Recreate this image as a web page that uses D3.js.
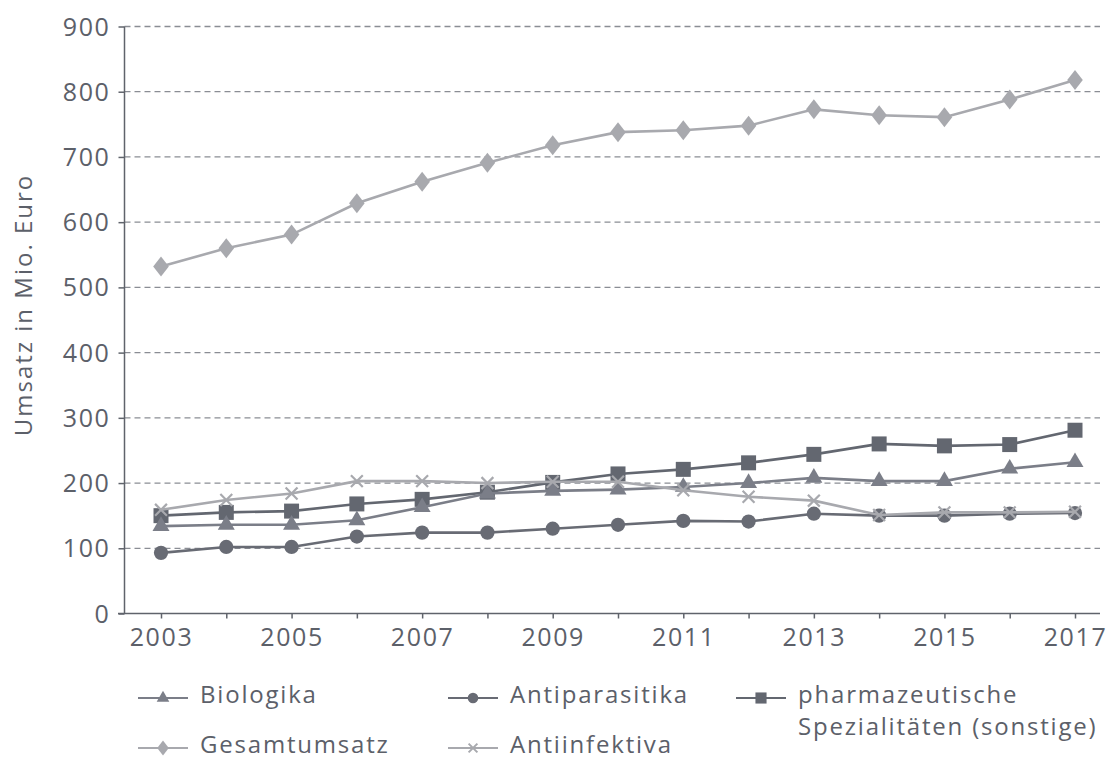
<!DOCTYPE html>
<html>
<head>
<meta charset="utf-8">
<script src="https://cdn.jsdelivr.net/npm/d3@7"></script>
<style>
  html, body { margin: 0; padding: 0; background: #ffffff; }
  svg { display: block; }
  text { font-family: "Open Sans", "DejaVu Sans", sans-serif; fill: #5c6069; }
</style>
</head>
<body>
<svg id="chart" width="1113" height="762"></svg>
<script>
const years = [2003, 2004, 2005, 2006, 2007, 2008, 2009, 2010, 2011, 2012, 2013, 2014, 2015, 2016, 2017];
const xTicks = [2003, 2005, 2007, 2009, 2011, 2013, 2015, 2017];
const yTicks = [0, 100, 200, 300, 400, 500, 600, 700, 800, 900];

const gesamtumsatz = [532, 560, 581, 629, 662, 691, 718, 738, 741, 748, 773, 764, 761, 788, 818];
const pharmazeutische = [150, 155, 157, 168, 175, 186, 201, 214, 221, 231, 244, 260, 257, 259, 281];
const biologika = [134, 136, 136, 143, 163, 184, 188, 190, 194, 200, 208, 203, 203, 222, 232];
const antiparasitika = [93, 102, 102, 118, 124, 124, 130, 136, 142, 141, 153, 150, 150, 153, 154];
const antiinfektiva = [159, 174, 184, 203, 203, 200, 202, 202, 189, 179, 173, 151, 155, 155, 156];

const yTitle = "Umsatz in Mio. Euro";

const svg = d3.select("#chart");
const x = d3.scaleLinear().domain([2003, 2017]).range([161, 1075]);
const y = d3.scaleLinear().domain([0, 900]).range([613.5, 26.5]);
const axisColor = "#5f636b";

// custom symbols
const diamondSym = { draw(ctx, size) { const h = Math.sqrt(size) * 0.62, w = h * 0.78; ctx.moveTo(0, -h); ctx.lineTo(w, 0); ctx.lineTo(0, h); ctx.lineTo(-w, 0); ctx.closePath(); } };
const crossSym = { draw(ctx, size) { const r = Math.sqrt(size) * 0.4; ctx.moveTo(-r, -r); ctx.lineTo(r, r); ctx.moveTo(r, -r); ctx.lineTo(-r, r); } };

// gridlines
svg.append("g").selectAll("line").data(yTicks.filter(d => d > 0)).join("line")
  .attr("x1", 124.5).attr("x2", 1100)
  .attr("y1", d => y(d)).attr("y2", d => y(d))
  .attr("stroke", "#8a8d94").attr("stroke-width", 1.3).attr("stroke-dasharray", "6,4");

// y axis
const yAxis = svg.append("g").attr("transform", "translate(124.5,0)")
  .call(d3.axisLeft(y).tickValues(yTicks).tickSize(6).tickPadding(10).tickFormat(d3.format("d")));
yAxis.select(".domain").attr("stroke", axisColor).attr("stroke-width", 1.5).attr("d", `M0,${y(900)}V${y(0)}`);
yAxis.selectAll(".tick line").attr("stroke", axisColor).attr("stroke-width", 1.5);
yAxis.selectAll(".tick text").attr("font-size", 25).attr("letter-spacing", "1.6px")
  .attr("font-family", "'Open Sans', sans-serif").attr("fill", "#5c6069").attr("dy", "0.34em").attr("x", -14);

// x axis
const xAxis = svg.append("g").attr("transform", `translate(0,${y(0)})`)
  .call(d3.axisBottom(x).tickValues(years).tickSize(5).tickFormat(d => xTicks.includes(d) ? d : ""));
xAxis.select(".domain").attr("stroke", axisColor).attr("stroke-width", 1.5).attr("d", "M118,0H1100");
xAxis.selectAll(".tick line").attr("stroke", axisColor).attr("stroke-width", 1.5);
xAxis.selectAll(".tick text").attr("font-size", 25).attr("letter-spacing", "1.6px")
  .attr("font-family", "'Open Sans', sans-serif").attr("fill", "#5c6069").attr("y", 15).attr("dy", "0.71em");

// y title
svg.append("text").attr("transform", "translate(32,305) rotate(-90)")
  .attr("text-anchor", "middle").attr("font-size", 24).attr("letter-spacing", "2px").text(yTitle);

const series = [
  { name: "pharmazeutische Spezialitäten (sonstige)", values: pharmazeutische, color: "#636770", sym: d3.symbolSquare, size: 225, fill: true },
  { name: "Biologika", values: biologika, color: "#7b7e88", sym: d3.symbolTriangle, size: 125, fill: true },
  { name: "Antiparasitika", values: antiparasitika, color: "#686b74", sym: d3.symbolCircle, size: 160, fill: true },
  { name: "Antiinfektiva", values: antiinfektiva, color: "#a8a9ae", sym: crossSym, size: 220, fill: false },
  { name: "Gesamtumsatz", values: gesamtumsatz, color: "#a8a9ae", sym: diamondSym, size: 260, fill: true }
];

const line = d3.line().x((d, i) => x(years[i])).y(d => y(d));
series.forEach(s => {
  const g = svg.append("g");
  g.append("path").attr("d", line(s.values)).attr("fill", "none")
    .attr("stroke", s.color).attr("stroke-width", 2.6);
  g.selectAll("path.m").data(s.values).join("path").attr("class", "m")
    .attr("transform", (d, i) => `translate(${x(years[i])},${y(d)})`)
    .attr("d", d3.symbol().type(s.sym).size(s.size))
    .attr("fill", s.fill ? s.color : "none")
    .attr("stroke", s.fill ? "none" : s.color).attr("stroke-width", 2.2);
});

// legend
const legendItems = [
  { label: ["Biologika"], s: series[1], lx: 138, ly: 698 },
  { label: ["Antiparasitika"], s: series[2], lx: 448, ly: 698 },
  { label: ["pharmazeutische", "Spezialitäten (sonstige)"], s: series[0], lx: 736, ly: 698 },
  { label: ["Gesamtumsatz"], s: series[4], lx: 138, ly: 748 },
  { label: ["Antiinfektiva"], s: series[3], lx: 448, ly: 748 }
];
const lg = svg.append("g");
legendItems.forEach(it => {
  const g = lg.append("g");
  g.append("line").attr("x1", it.lx).attr("x2", it.lx + 50).attr("y1", it.ly).attr("y2", it.ly)
    .attr("stroke", it.s.color).attr("stroke-width", 2.2);
  g.append("path").attr("transform", `translate(${it.lx + 25},${it.ly})`)
    .attr("d", d3.symbol().type(it.s.sym).size(it.s.size * 0.55))
    .attr("fill", it.s.fill ? it.s.color : "none")
    .attr("stroke", it.s.fill ? "none" : it.s.color).attr("stroke-width", 2);
  const t = g.append("text").attr("x", it.lx + 62).attr("y", it.ly + 5)
    .attr("font-size", 24).attr("letter-spacing", "1.8px");
  it.label.forEach((l, k) => {
    t.append("tspan").attr("x", it.lx + 62).attr("dy", k === 0 ? 0 : 32).text(l);
  });
});
</script>
</body>
</html>
